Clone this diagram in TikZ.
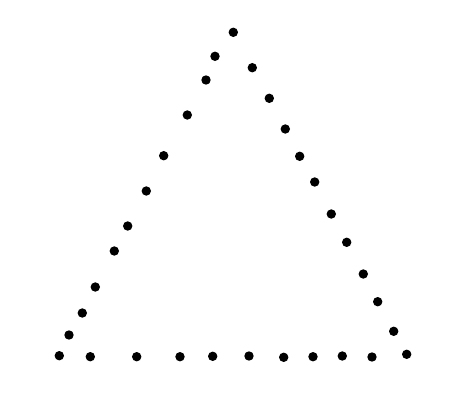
\documentclass[tikz,border=0pt]{standalone}
\usepackage{tikz}

\tikzset{dot/.style={circle, fill=black, inner sep=0pt, minimum size=0.235cm}}

\begin{document}
\begin{tikzpicture}[x=0.025cm, y=-0.025cm]
    \useasboundingbox (0,0) rectangle (468,401);

    % Left side
    \foreach \x/\y [count=\i] in {233.3/32.3, 215/56.3, 206/80, 187.3/115, 163.7/155.7, 146.3/191,
        127.7/226, 114.3/251, 95.3/287, 82.3/313, 69/335, 59.3/355.7}
        \node[dot] (l\i) at (\x,\y) {};

    % Right side
    \foreach \x/\y [count=\i] in {252.3/67.7, 269.3/98.3, 285.3/129, 299.7/156.3, 314.7/182,
        331.3/214, 346.7/242.3, 363.3/274, 377.7/301.7, 393.7/331.3, 406.7/354.3}
        \node[dot] (r\i) at (\x,\y) {};

    % Base
    \foreach \x/\y [count=\i] in {90.3/356.7, 136.7/356.7, 180/356.7, 212.7/356.3, 249/356,
        283.7/357.3, 313/356.7, 342.3/356, 372/357}
        \node[dot] (b\i) at (\x,\y) {};
\end{tikzpicture}
\end{document}
